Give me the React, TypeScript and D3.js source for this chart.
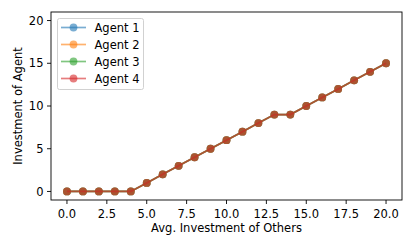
import React from "react";
import * as d3 from "d3";

const xValues = [0, 1, 2, 3, 4, 5, 6, 7, 8, 9, 10, 11, 12, 13, 14, 15, 16, 17, 18, 19, 20];
const agent1 = [0, 0, 0, 0, 0, 1, 2, 3, 4, 5, 6, 7, 8, 9, 9, 10, 11, 12, 13, 14, 15];
const agent2 = [0, 0, 0, 0, 0, 1, 2, 3, 4, 5, 6, 7, 8, 9, 9, 10, 11, 12, 13, 14, 15];
const agent3 = [0, 0, 0, 0, 0, 1, 2, 3, 4, 5, 6, 7, 8, 9, 9, 10, 11, 12, 13, 14, 15];
const agent4 = [0, 0, 0, 0, 0, 1, 2, 3, 4, 5, 6, 7, 8, 9, 9, 10, 11, 12, 13, 14, 15];
const seriesNames = ["Agent 1", "Agent 2", "Agent 3", "Agent 4"];
const seriesColors = ["#1f77b4", "#ff7f0e", "#2ca02c", "#d62728"];
const xTicks = [0, 2.5, 5, 7.5, 10, 12.5, 15, 17.5, 20];
const yTicks = [0, 5, 10, 15, 20];

const W = 415;
const H = 249;
const m = { left: 51, right: 402, top: 12, bottom: 200 };

export default function App() {
  const x = d3.scaleLinear().domain([-1, 21]).range([m.left, m.right]);
  const y = d3.scaleLinear().domain([-1, 21]).range([m.bottom, m.top]);
  const series = [agent1, agent2, agent3, agent4];
  const line = d3
    .line<number>()
    .x((_, i) => x(xValues[i]))
    .y((d) => y(d));
  const font = "DejaVu Sans, sans-serif";
  const alpha = 0.6;
  const fs = 11.5;

  return (
    <svg
      width={W}
      height={H}
      style={{ position: "absolute", left: 0, top: 0, background: "#fff" }}
      fontFamily={font}
    >
      <rect x={0} y={0} width={W} height={H} fill="#fff" />
      {series.map((s, k) => (
        <g key={k}>
          <path d={line(s) || ""} fill="none" stroke={seriesColors[k]} strokeWidth={1.7} strokeOpacity={alpha} />
          {s.map((v, i) => (
            <circle key={i} cx={x(xValues[i])} cy={y(v)} r={3.9} fill={seriesColors[k]} fillOpacity={alpha} />
          ))}
        </g>
      ))}
      <rect
        x={m.left}
        y={m.top}
        width={m.right - m.left}
        height={m.bottom - m.top}
        fill="none"
        stroke="#000"
        strokeWidth={0.9}
      />
      {xTicks.map((t) => (
        <g key={t}>
          <line x1={x(t)} x2={x(t)} y1={m.bottom} y2={m.bottom + 4} stroke="#000" strokeWidth={0.9} />
          <text x={x(t)} y={217.5} fontSize={fs} textAnchor="middle" fill="#000">
            {t.toFixed(1)}
          </text>
        </g>
      ))}
      {yTicks.map((t) => (
        <g key={t}>
          <line x1={m.left - 4} x2={m.left} y1={y(t)} y2={y(t)} stroke="#000" strokeWidth={0.9} />
          <text x={m.left - 7.5} y={y(t)} dy="0.36em" fontSize={fs} textAnchor="end" fill="#000">
            {t}
          </text>
        </g>
      ))}
      <text x={(m.left + m.right) / 2} y={232} fontSize={fs} textAnchor="middle" fill="#000">
        Avg. Investment of Others
      </text>
      <text
        transform={`translate(22,${(m.top + m.bottom) / 2}) rotate(-90)`}
        fontSize={fs}
        textAnchor="middle"
        fill="#000"
      >
        Investment of Agent
      </text>
      <g>
        <rect x={57.5} y={18.5} width={86} height={71} rx={2} fill="#fff" fillOpacity={0.8} stroke="#cccccc" strokeWidth={0.9} />
        {seriesNames.map((n, k) => {
          const ly = 27.5 + k * 17;
          return (
            <g key={n}>
              <line x1={61} x2={86} y1={ly} y2={ly} stroke={seriesColors[k]} strokeWidth={1.7} strokeOpacity={alpha} />
              <circle cx={73.5} cy={ly} r={3.9} fill={seriesColors[k]} fillOpacity={alpha} />
              <text x={94.5} y={ly} dy="0.36em" fontSize={fs} fill="#000">
                {n}
              </text>
            </g>
          );
        })}
      </g>
    </svg>
  );
}
